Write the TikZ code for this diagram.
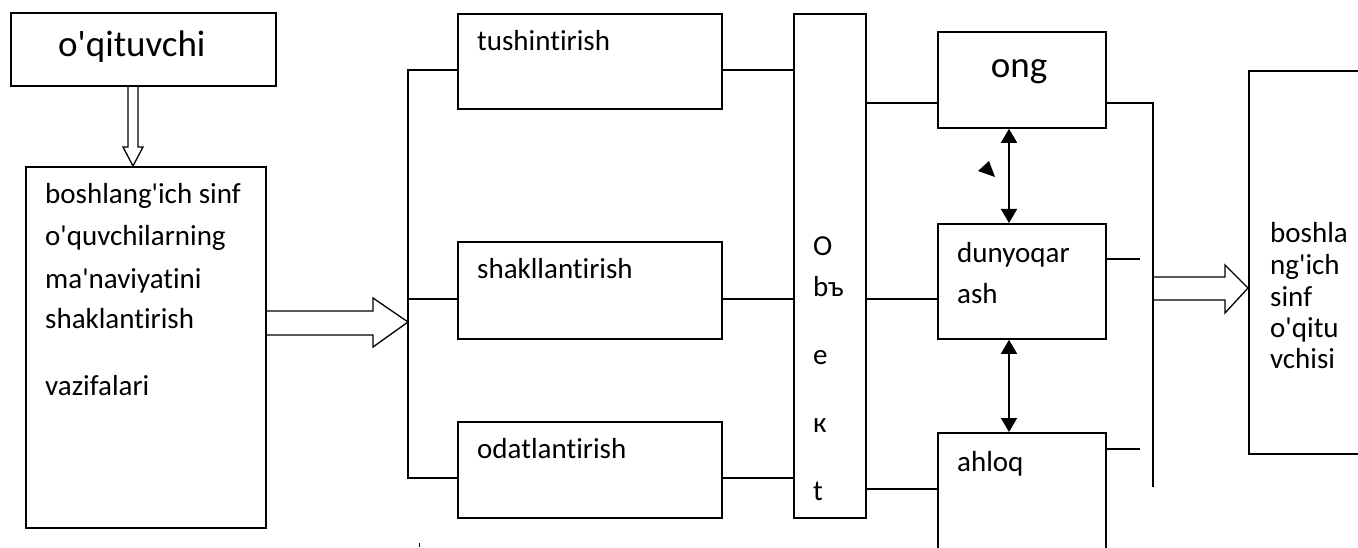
\documentclass[tikz,border=0pt]{standalone}
\usepackage{fontspec}
\newfontfamily\carlito{Carlito}[Ligatures=CommonOff]
\usetikzlibrary{arrows.meta}

\tikzset{
	blok/.style={draw, line width=1.8pt, inner sep=0pt, anchor=north west},
	txt/.style={anchor=base west, inner sep=0pt, font=\carlito\fontsize{29}{35}\selectfont},
	bigtxt/.style={anchor=base west, inner sep=0pt, font=\carlito\fontsize{37}{44}\selectfont},
	wire/.style={line width=1.4pt},
	stub/.style={line width=1.1pt},
	hollow/.style={line width=1.3pt, line join=miter},
	dbl/.style={line width=1.6pt, {Triangle[width=16pt,length=14pt]}-{Triangle[width=16pt,length=14pt]}}
}

\begin{document}
\begin{tikzpicture}[x=1pt, y=-1pt]
	\useasboundingbox (0,0) rectangle (1358,548);
	\clip (0,0) rectangle (1358,548);
	% left part
	\node (teach) [blok, minimum width=265pt, minimum height=73pt] at (10,12) {};
	\node (teachtxt) [bigtxt] at (58,57) {o'qituvchi};
	\node (task) [blok, minimum width=240pt, minimum height=361pt] at (25,166) {};
	\node (task1) [txt] at (45,204) {boshlang'ich sinf};
	\node (task2) [txt] at (45,246) {o'quvchilarning};
	\node (task3) [txt] at (45,288) {ma'naviyatini};
	\node (task4) [txt] at (45,328) {shaklantirish};
	\node (task5) [txt] at (45,395) {vazifalari};
	\draw[hollow] (teach.south -| 128,0) -- (128,147) -- (123,147) -- (task.north -| 133,0)
		-- (143,147) -- (138,147) -- (teach.south -| 138,0);
	\coordinate (fork) at (408,322);
	\draw[hollow] (task.east |- 0,311) -- (373,311) -- (373,298) -- (fork)
		-- (373,347) -- (373,335) -- (task.east |- 0,335);
	% middle boxes
	\node (tush) [blok, minimum width=264pt, minimum height=95pt] at (457,13) {};
	\node (tushtxt) [txt] at (477,51) {tushintirish};
	\node (shak) [blok, minimum width=264pt, minimum height=97pt] at (457,241) {};
	\node (shaktxt) [txt] at (477,279) {shakllantirish};
	\node (odat) [blok, minimum width=264pt, minimum height=96pt] at (457,421) {};
	\node (odattxt) [txt] at (477,458) {odatlantirish};
	\draw[wire] (tush.west |- 0,70) -| (408,478) -- (odat.west |- 0,478);
	\draw[wire] (shak.west |- 0,299) -- (fork |- 0,299);
	\fill (418.5,543) rectangle (419.7,546.5);
	% object column
	\node (obj) [blok, minimum width=72pt, minimum height=504pt] at (793,13) {};
	\node (obj1) [txt] at (813,256) {O};
	\node (obj2) [txt] at (813,297) {bъ};
	\node (obj3) [txt] at (813,364) {e};
	\node (obj4) [txt] at (813,432) {к};
	\node (obj5) [txt] at (813,500) {t};
	\draw[wire] (tush.east |- 0,70) -- (obj.west |- 0,70);
	\draw[wire] (shak.east |- 0,299) -- (obj.west |- 0,299);
	\draw[wire] (odat.east |- 0,478) -- (obj.west |- 0,478);
	% right boxes
	\node (ong) [blok, minimum width=168pt, minimum height=96pt] at (937,31) {};
	\node (ongtxt) [bigtxt, anchor=base] at (1019,78) {ong};
	\node (dun) [blok, minimum width=168pt, minimum height=115pt] at (937,223) {};
	\node (dun1) [txt] at (957,262) {dunyoqar};
	\node (dun2) [txt] at (957,303) {ash};
	\node (ahl) [blok, minimum width=168pt, minimum height=140pt] at (937,432) {};
	\node (ahltxt) [txt] at (957,471) {ahloq};
	\draw[wire] (obj.east |- 0,103) -- (ong.west |- 0,103);
	\draw[wire] (obj.east |- 0,299) -- (dun.west |- 0,299);
	\draw[wire] (obj.east |- 0,489) -- (ahl.west |- 0,489);
	\draw[dbl] (ong.south -| 1009,0) -- (dun.north -| 1009,0);
	\draw[dbl] (dun.south -| 1009,0) -- (ahl.north -| 1009,0);
	\fill (978,171) -- (989,161) -- (995,177) -- cycle;
	% output
	\coordinate (busend) at (1153,487);
	\draw[wire] (ong.east |- 0,103) -| (busend);
	\draw[stub] (dun.east |- 0,259) -- ++(33,0);
	\draw[stub] (ahl.east |- 0,449) -- ++(33,0);
	\node (res) [blok, minimum width=140pt, minimum height=383pt] at (1248,70) {};
	\node (res1) [txt] at (1270,243) {boshla};
	\node (res2) [txt] at (1270,275) {ng'ich};
	\node (res3) [txt] at (1270,306) {sinf};
	\node (res4) [txt] at (1270,337) {o'qitu};
	\node (res5) [txt] at (1270,368) {vchisi};
	\draw[hollow] (busend |- 0,277) -- (1225,277) -- (1225,265) -- (res.west |- 0,288)
		-- (1225,313) -- (1225,300) -- (busend |- 0,300);
\end{tikzpicture}
\end{document}
